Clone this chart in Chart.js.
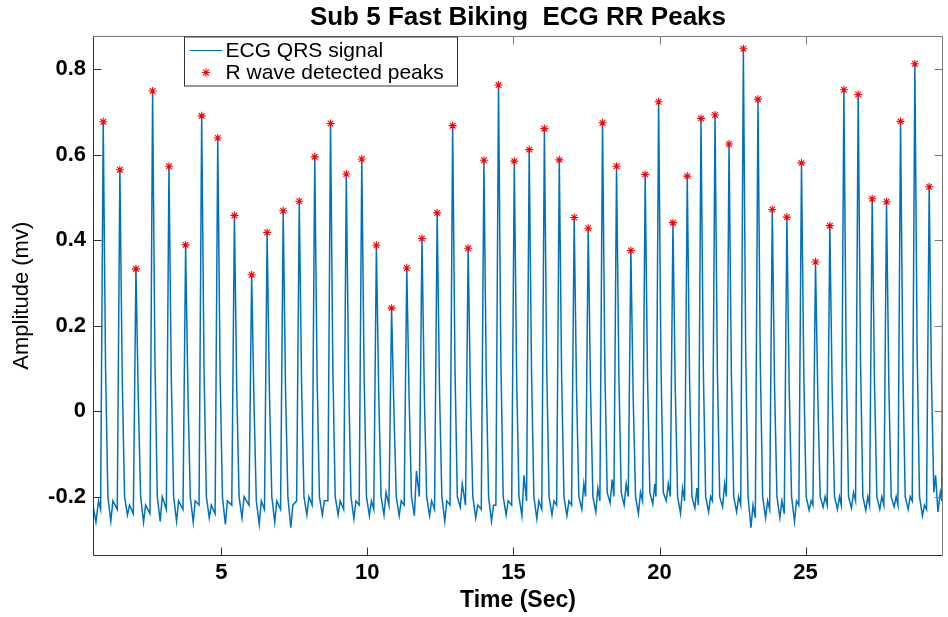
<!DOCTYPE html>
<html>
<head>
<meta charset="utf-8">
<script src="https://cdn.jsdelivr.net/npm/chart.js@4.4.1/dist/chart.umd.min.js"></script>
<style>
html,body{margin:0;padding:0;background:#ffffff;}
#wrap{width:948px;height:617px;}
</style>
</head>
<body>
<div id="wrap"><canvas id="c" width="948" height="617"></canvas></div>
<script>
// ---------------- data ----------------
const chartTitle = 'Sub 5 Fast Biking  ECG RR Peaks';
const xAxisTitle = 'Time (Sec)';
const yAxisTitle = 'Amplitude (mv)';
const seriesNames = ['ECG QRS signal', 'R wave detected peaks'];

const xRange = [0.61, 29.70];
const yRange = [-0.339, 0.879];
const xTickValues = [5, 10, 15, 20, 25];
const xTickLabels = ['5', '10', '15', '20', '25'];
const yTickValues = [-0.2, 0, 0.2, 0.4, 0.6, 0.8];
const yTickLabels = ['-0.2', '0', '0.2', '0.4', '0.6', '0.8'];

// R-wave peak times (s) and amplitudes (mV)
const peakTimes = [
  0.96, 1.53, 2.08, 2.65, 3.21, 3.78, 4.33, 4.88, 5.45, 6.04,
  6.57, 7.12, 7.67, 8.20, 8.74, 9.28, 9.81, 10.31, 10.83, 11.35,
  11.87, 12.39, 12.92, 13.45, 13.99, 14.49, 15.03, 15.54, 16.06, 16.57,
  17.08, 17.56, 18.05, 18.53, 19.02, 19.51, 19.97, 20.46, 20.95, 21.42,
  21.90, 22.38, 22.87, 23.37, 23.86, 24.36, 24.86, 25.34, 25.83, 26.31,
  26.80, 27.28, 27.77, 28.25, 28.74, 29.23
];
const peakAmps = [
  0.677, 0.565, 0.333, 0.749, 0.573, 0.389, 0.691, 0.639, 0.458, 0.319,
  0.418, 0.469, 0.491, 0.595, 0.673, 0.555, 0.590, 0.388, 0.241, 0.335,
  0.404, 0.464, 0.668, 0.381, 0.587, 0.763, 0.585, 0.612, 0.661, 0.588,
  0.453, 0.428, 0.675, 0.573, 0.376, 0.554, 0.724, 0.441, 0.550, 0.685,
  0.693, 0.625, 0.848, 0.730, 0.472, 0.454, 0.581, 0.349, 0.434, 0.752,
  0.741, 0.497, 0.490, 0.678, 0.813, 0.525
];

// ECG QRS signal [time (s), amplitude (mV)]
const ecgSignal = [
  [0.61,-0.22],[0.71,-0.26],[0.80,-0.21],
  [0.87,-0.23],[0.96,0.677],[1.04,0.10],[1.12,-0.20],[1.22,-0.258],[1.29,-0.21],
  [1.44,-0.23],[1.53,0.565],[1.61,0.08],[1.69,-0.20],[1.79,-0.243],[1.86,-0.22],
  [1.99,-0.24],[2.08,0.333],[2.16,0.03],[2.24,-0.20],[2.34,-0.26],[2.41,-0.22],
  [2.56,-0.24],[2.65,0.749],[2.73,0.12],[2.81,-0.20],[2.91,-0.258],[2.98,-0.20],
  [3.12,-0.23],[3.21,0.573],[3.29,0.08],[3.37,-0.20],[3.47,-0.258],[3.54,-0.21],
  [3.69,-0.23],[3.78,0.389],[3.86,0.04],[3.94,-0.20],[4.04,-0.26],[4.11,-0.21],
  [4.24,-0.22],[4.33,0.691],[4.41,0.10],[4.49,-0.20],[4.59,-0.25],[4.66,-0.22],
  [4.79,-0.24],[4.88,0.639],[4.96,0.09],[5.04,-0.20],[5.14,-0.265],[5.21,-0.21],
  [5.36,-0.22],[5.45,0.458],[5.53,0.05],[5.61,-0.20],[5.71,-0.25],[5.78,-0.20],
  [5.95,-0.22],[6.04,0.319],[6.12,0.02],[6.20,-0.21],[6.30,-0.265],[6.37,-0.21],
  [6.48,-0.23],[6.57,0.418],[6.65,0.04],[6.73,-0.20],[6.83,-0.26],[6.90,-0.21],
  [7.03,-0.23],[7.12,0.469],[7.20,0.05],[7.28,-0.20],[7.38,-0.273],[7.45,-0.22],
  [7.58,-0.21],[7.67,0.491],[7.75,0.06],[7.83,-0.20],[7.93,-0.243],[8.00,-0.20],
  [8.11,-0.22],[8.20,0.595],[8.28,0.08],[8.36,-0.20],[8.46,-0.243],[8.53,-0.21],
  [8.65,-0.21],[8.74,0.673],[8.82,0.10],[8.90,-0.20],[9.00,-0.243],[9.07,-0.21],
  [9.19,-0.23],[9.28,0.555],[9.36,0.07],[9.44,-0.20],[9.54,-0.252],[9.61,-0.21],
  [9.72,-0.22],[9.81,0.590],[9.89,0.08],[9.97,-0.20],[10.07,-0.245],[10.14,-0.21],
  [10.22,-0.23],[10.31,0.388],[10.39,0.04],[10.47,-0.20],[10.57,-0.243],[10.64,-0.19],
  [10.74,-0.22],[10.83,0.241],[10.91,0.00],[10.99,-0.20],[11.09,-0.245],[11.16,-0.21],
  [11.26,-0.22],[11.35,0.335],[11.43,0.03],[11.51,-0.20],[11.61,-0.245],[11.68,-0.14],
  [11.78,-0.20],[11.87,0.404],[11.95,0.04],[12.03,-0.20],[12.13,-0.245],[12.20,-0.21],
  [12.30,-0.23],[12.39,0.464],[12.47,0.05],[12.55,-0.20],[12.65,-0.258],[12.72,-0.21],
  [12.83,-0.22],[12.92,0.668],[13.00,0.10],[13.08,-0.20],[13.18,-0.225],[13.25,-0.17],
  [13.36,-0.22],[13.45,0.381],[13.53,0.03],[13.61,-0.20],[13.71,-0.25],[13.78,-0.22],
  [13.90,-0.23],[13.99,0.587],[14.07,0.08],[14.15,-0.20],[14.25,-0.258],[14.32,-0.22],
  [14.40,-0.22],[14.49,0.763],[14.57,0.12],[14.65,-0.20],[14.75,-0.243],[14.82,-0.21],
  [14.94,-0.22],[15.03,0.585],[15.11,0.08],[15.19,-0.20],[15.29,-0.245],[15.36,-0.15],
  [15.45,-0.21],[15.54,0.612],[15.62,0.09],[15.70,-0.20],[15.80,-0.252],[15.87,-0.21],
  [15.97,-0.23],[16.06,0.661],[16.14,0.10],[16.22,-0.20],[16.32,-0.243],[16.39,-0.21],
  [16.48,-0.22],[16.57,0.588],[16.65,0.08],[16.73,-0.20],[16.83,-0.245],[16.90,-0.21],
  [16.99,-0.22],[17.08,0.453],[17.16,0.05],[17.24,-0.20],[17.34,-0.23],[17.41,-0.17],
  [17.47,-0.20],[17.56,0.428],[17.64,0.05],[17.72,-0.20],[17.82,-0.236],[17.89,-0.18],
  [17.96,-0.21],[18.05,0.675],[18.13,0.10],[18.21,-0.19],[18.31,-0.215],[18.38,-0.16],
  [18.44,-0.20],[18.53,0.573],[18.61,0.08],[18.69,-0.19],[18.79,-0.22],[18.86,-0.17],
  [18.93,-0.20],[19.02,0.376],[19.10,0.03],[19.18,-0.20],[19.28,-0.24],[19.35,-0.19],
  [19.42,-0.21],[19.51,0.554],[19.59,0.08],[19.67,-0.19],[19.77,-0.218],[19.84,-0.17],
  [19.88,-0.20],[19.97,0.724],[20.05,0.11],[20.13,-0.19],[20.23,-0.21],[20.30,-0.17],
  [20.37,-0.20],[20.46,0.441],[20.54,0.05],[20.62,-0.20],[20.72,-0.24],[20.79,-0.18],
  [20.86,-0.21],[20.95,0.550],[21.03,0.07],[21.11,-0.20],[21.21,-0.227],[21.28,-0.18],
  [21.33,-0.22],[21.42,0.685],[21.50,0.10],[21.58,-0.20],[21.68,-0.236],[21.75,-0.20],
  [21.81,-0.21],[21.90,0.693],[21.98,0.10],[22.06,-0.20],[22.16,-0.224],[22.23,-0.17],
  [22.29,-0.20],[22.38,0.625],[22.46,0.09],[22.54,-0.20],[22.64,-0.236],[22.71,-0.20],
  [22.78,-0.22],[22.87,0.848],[22.95,0.14],[23.03,-0.20],[23.13,-0.273],[23.20,-0.22],
  [23.28,-0.25],[23.37,0.730],[23.45,0.11],[23.53,-0.20],[23.63,-0.25],[23.70,-0.21],
  [23.77,-0.23],[23.86,0.472],[23.94,0.05],[24.02,-0.20],[24.12,-0.25],[24.19,-0.21],
  [24.27,-0.24],[24.36,0.454],[24.44,0.05],[24.52,-0.20],[24.62,-0.258],[24.69,-0.21],
  [24.77,-0.22],[24.86,0.581],[24.94,0.08],[25.02,-0.20],[25.12,-0.232],[25.19,-0.21],
  [25.25,-0.22],[25.34,0.349],[25.42,0.03],[25.50,-0.20],[25.60,-0.225],[25.67,-0.20],
  [25.74,-0.22],[25.83,0.434],[25.91,0.05],[25.99,-0.20],[26.09,-0.23],[26.16,-0.20],
  [26.22,-0.22],[26.31,0.752],[26.39,0.12],[26.47,-0.20],[26.57,-0.227],[26.64,-0.19],
  [26.71,-0.21],[26.80,0.741],[26.88,0.12],[26.96,-0.20],[27.06,-0.232],[27.13,-0.20],
  [27.19,-0.22],[27.28,0.497],[27.36,0.06],[27.44,-0.20],[27.54,-0.23],[27.61,-0.20],
  [27.68,-0.22],[27.77,0.490],[27.85,0.06],[27.93,-0.20],[28.03,-0.224],[28.10,-0.20],
  [28.16,-0.22],[28.25,0.678],[28.33,0.10],[28.41,-0.20],[28.51,-0.23],[28.58,-0.20],
  [28.65,-0.21],[28.74,0.813],[28.82,0.13],[28.90,-0.20],[29.00,-0.245],[29.07,-0.22],
  [29.14,-0.23],[29.23,0.525],[29.31,0.07],[29.39,-0.19],[29.45,-0.15],[29.53,-0.236],[29.61,-0.19],
  [29.66,-0.21],[29.72,0.70]
];

// ---------------- chart ----------------
const FONT = "'Liberation Sans', Arial, Helvetica, sans-serif";
Chart.defaults.font.family = FONT;
Chart.defaults.color = '#000000';

const AXIS_DARK = '#333333';
const AXIS_LIGHT = '#7a7a7a';
const LINE_COLOR = '#0072BD';
const MARK_COLOR = '#FF0000';

const matlabFrame = {
  id: 'matlabFrame',
  afterDatasetsDraw(chart) {
    const {ctx, chartArea: a, scales} = chart;
    const xs = scales.x, ys = scales.y;
    const L = Math.round(a.left) + 0.5, R = Math.round(a.right) - 0.5;
    const T = Math.round(a.top) + 0.5, B = Math.round(a.bottom) - 0.5;
    const tk = 8;
    ctx.save();
    ctx.lineWidth = 1;
    // top and right edges with their ticks
    ctx.strokeStyle = AXIS_LIGHT;
    ctx.beginPath();
    ctx.moveTo(L, T); ctx.lineTo(R, T); ctx.lineTo(R, B);
    xTickValues.forEach(v => {
      const px = Math.round(xs.getPixelForValue(v)) + 0.5;
      ctx.moveTo(px, T); ctx.lineTo(px, T + tk);
    });
    yTickValues.forEach(v => {
      const py = Math.round(ys.getPixelForValue(v)) + 0.5;
      ctx.moveTo(R, py); ctx.lineTo(R - tk, py);
    });
    ctx.stroke();
    // left and bottom edges with their ticks
    ctx.strokeStyle = AXIS_DARK;
    ctx.beginPath();
    ctx.moveTo(L, T); ctx.lineTo(L, B); ctx.lineTo(R, B);
    xTickValues.forEach(v => {
      const px = Math.round(xs.getPixelForValue(v)) + 0.5;
      ctx.moveTo(px, B); ctx.lineTo(px, B - tk);
    });
    yTickValues.forEach(v => {
      const py = Math.round(ys.getPixelForValue(v)) + 0.5;
      ctx.moveTo(L, py); ctx.lineTo(L + tk, py);
    });
    ctx.stroke();

    // legend box (inside axes, MATLAB style)
    const ds = chart.data.datasets;
    const bx = Math.round(a.left + 91) + 0.5, by = T + 0.5, bw = 273, bh = 49;
    ctx.fillStyle = '#ffffff';
    ctx.fillRect(bx, by, bw, bh);
    ctx.strokeStyle = AXIS_DARK;
    ctx.lineWidth = 1;
    ctx.strokeRect(bx, by, bw, bh);
    const row1 = by + 13.5, row2 = by + 35.5;
    const sx0 = bx + 5, sx1 = bx + 38;
    ctx.strokeStyle = ds[0].borderColor;
    ctx.lineWidth = 1.2;
    ctx.beginPath();
    ctx.moveTo(sx0, row1); ctx.lineTo(sx1, row1);
    ctx.stroke();
    ctx.strokeStyle = ds[1].borderColor;
    ctx.fillStyle = ds[1].borderColor;
    ctx.lineWidth = 1.1;
    Chart.helpers.drawPoint(ctx, {pointStyle: 'star', radius: 4, borderWidth: 1.1, rotation: 0}, (sx0 + sx1) / 2, row2);
    ctx.fillStyle = '#000000';
    ctx.font = '21px ' + FONT;
    ctx.textAlign = 'left';
    ctx.textBaseline = 'middle';
    ctx.fillText(ds[0].label, bx + 41, row1 + 0.5);
    ctx.fillText(ds[1].label, bx + 41, row2 + 0.5);
    ctx.restore();
  }
};

new Chart(document.getElementById('c'), {
  type: 'line',
  data: {
    datasets: [
      {
        label: seriesNames[0],
        data: ecgSignal.map(p => ({x: p[0], y: p[1]})),
        borderColor: LINE_COLOR,
        backgroundColor: LINE_COLOR,
        borderWidth: 1.5,
        pointRadius: 0,
        pointHoverRadius: 0,
        tension: 0,
        fill: false,
        order: 2
      },
      {
        label: seriesNames[1],
        data: peakTimes.map((t, i) => ({x: t, y: peakAmps[i]})),
        showLine: false,
        pointStyle: 'star',
        pointRadius: 4,
        pointHoverRadius: 4,
        borderColor: MARK_COLOR,
        backgroundColor: MARK_COLOR,
        pointBorderWidth: 1.1,
        order: 1
      }
    ]
  },
  options: {
    responsive: false,
    animation: false,
    devicePixelRatio: 1,
    events: [],
    layout: {padding: {left: 0, right: 4, top: 0, bottom: 0}},
    plugins: {
      legend: {display: false},
      tooltip: {enabled: false},
      title: {
        display: true,
        text: chartTitle,
        fullSize: false,
        color: '#000000',
        font: {size: 26, weight: 'bold', family: FONT},
        padding: {top: 1.9, bottom: 2.4}
      }
    },
    scales: {
      x: {
        type: 'linear',
        position: 'bottom',
        min: xRange[0],
        max: xRange[1],
        afterBuildTicks: s => { s.ticks = xTickValues.map(v => ({value: v})); },
        afterFit: s => { s.height = 61; },
        grid: {display: false, drawTicks: false},
        border: {display: false},
        ticks: {
          padding: 4,
          autoSkip: false,
          maxRotation: 0,
          color: '#000000',
          font: {size: 22, weight: 'bold', family: FONT},
          callback: v => { const i = xTickValues.indexOf(v); return i >= 0 ? xTickLabels[i] : ''; }
        },
        title: {
          display: true,
          text: xAxisTitle,
          color: '#000000',
          font: {size: 23, weight: 'bold', family: FONT},
          padding: {top: 0, bottom: 2.2}
        }
      },
      y: {
        type: 'linear',
        position: 'left',
        min: yRange[0],
        max: yRange[1],
        afterBuildTicks: s => { s.ticks = yTickValues.map(v => ({value: v})); },
        afterFit: s => { s.width = 93; },
        grid: {display: false, drawTicks: false},
        border: {display: false},
        ticks: {
          padding: 7,
          autoSkip: false,
          color: '#000000',
          font: {size: 22, weight: 'bold', family: FONT},
          callback: v => {
            const i = yTickValues.findIndex(t => Math.abs(t - v) < 1e-9);
            return i >= 0 ? yTickLabels[i] : '';
          }
        },
        title: {
          display: true,
          text: yAxisTitle,
          color: '#000000',
          font: {size: 22, weight: 'normal', family: FONT},
          padding: {top: 9, bottom: 0}
        }
      }
    }
  },
  plugins: [matlabFrame]
});
</script>
</body>
</html>
